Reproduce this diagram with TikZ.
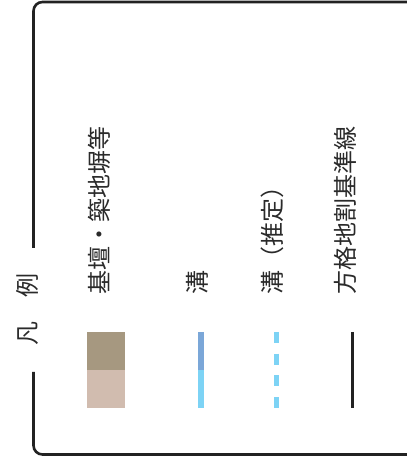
\documentclass[tikz,border=0pt]{standalone}
\usepackage{fontspec}
\newfontfamily\cjk{Noto Sans CJK JP}
\definecolor{swdark}{HTML}{A69880}
\definecolor{swlight}{HTML}{D1BCAF}
\definecolor{ditchA}{HTML}{7BA7D8}
\definecolor{ditchB}{HTML}{7DD3F5}
\definecolor{ink}{HTML}{2A2A2A}
\definecolor{framecol}{HTML}{222222}
\tikzset{
  lbl/.style={font=\cjk\fontsize{24}{24}\selectfont, text=ink, inner sep=0pt, rotate=90, anchor=west},
  ttl/.style={font=\cjk\fontsize{24}{24}\selectfont, text=ink, inner sep=0pt, rotate=90},
  framepath/.style={draw=framecol, line width=2.6pt, rounded corners=9pt},
  swatch/.style={draw=none, inner sep=0pt, minimum width=38pt, minimum height=38pt},
}
\begin{document}
\begin{tikzpicture}[x=1pt,y=1pt]
\useasboundingbox (0,0) rectangle (407,461);
\clip (0,0) rectangle (407,461);
% frame
\coordinate (fa) at (33.5,213);
\coordinate (fb) at (33.5,459);
\coordinate (fc) at (430,459);
\coordinate (fd) at (33.5,89);
\coordinate (fe) at (33.5,6.5);
\coordinate (ff) at (430,6.5);
\draw[framepath] (fa) -- (fb) -- (fc);
\draw[framepath] (fd) -- (fe) -- (ff);
% title
\node[ttl] (title) at (27,151) {凡　例};
% row 1: swatch
\node[swatch, fill=swdark] (sw1) at (106,110) {};
\node[swatch, fill=swlight] (sw2) at (106,72) {};
\node[lbl] (l1) at (99,166) {基壇・築地塀等};
% row 2: ditch
\coordinate (d1) at (201,129);
\coordinate (d2) at (201,91);
\coordinate (d3) at (201,53);
\draw[ditchA, line width=6pt] (d1) -- (d2);
\draw[ditchB, line width=6pt] (d2) -- (d3);
\node[lbl] (l2) at (197.5,166) {溝};
% row 3: ditch (estimated)
\coordinate (e1) at (276.5,129);
\coordinate (e2) at (276.5,53);
\draw[ditchB, line width=5pt, dash pattern=on 11pt off 10.67pt] (e1) -- (e2);
\node[lbl] (l3) at (272,166) {溝（推定）};
% row 4: grid line
\coordinate (g1) at (352.5,129);
\coordinate (g2) at (352.5,53);
\draw[framecol, line width=3pt] (g1) -- (g2);
\node[lbl] (l4) at (345,166) {方格地割基準線};
\end{tikzpicture}
\end{document}
